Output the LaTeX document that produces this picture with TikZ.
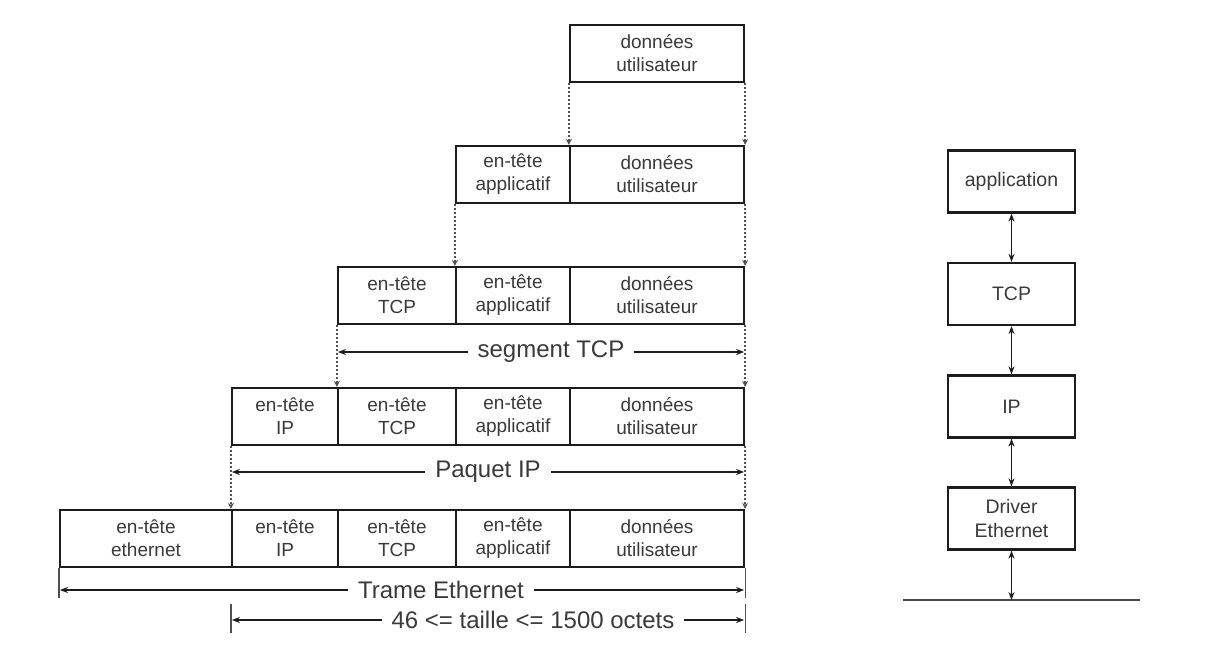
\documentclass[tikz,border=0pt]{standalone}
\usepackage{fontspec}
\setmainfont{Liberation Sans}
\usetikzlibrary{arrows.meta,calc}
\definecolor{ink}{HTML}{1C1C1C}
\definecolor{txt}{HTML}{3A3A3A}
\definecolor{dotc}{HTML}{505050}
\tikzset{
  cell/.style={draw=ink, line width=2.2pt, inner sep=0pt, minimum height=57pt,
    text=txt, align=center, font=\fontsize{19}{23}\selectfont},
  layer/.style={draw=ink, line width=2.2pt, inner sep=0pt, minimum width=127pt,
    minimum height=62pt, text=txt, align=center, font=\fontsize{19.5}{24}\selectfont},
  dotconn/.style={dotc, line width=1.6pt, dash pattern=on 2pt off 2pt,
    -{Stealth[length=6pt,width=6pt,fill=ink]}},
  dimline/.style={ink, line width=1.3pt, {Stealth[length=8pt,width=6pt]}-{Stealth[length=8pt,width=6pt]}},
  dimlabel/.style={fill=white, text=txt, inner xsep=10pt, inner ysep=1pt,
    font=\fontsize{24}{26}\selectfont},
  tickline/.style={dotc, line width=1.2pt},
  stackarrow/.style={ink, line width=1.4pt, {Stealth[length=8pt,width=6pt]}-{Stealth[length=8pt,width=6pt]}},
  bus/.style={ink!80, line width=1.4pt}
}
\begin{document}
\begin{tikzpicture}[x=1pt,y=-1pt]
\useasboundingbox[fill=white] (0,0) rectangle (1205,648);

% row 1: user data
\node[cell, minimum width=174pt] (d1) at (657,53.5) {données\\utilisateur};

% row 2: application header + data
\node[cell, minimum width=114pt] (a2) at (513,174.5) {en-tête\\applicatif};
\node[cell, minimum width=174pt] (d2) at (657,174.5) {données\\utilisateur};

% row 3: TCP segment
\node[cell, minimum width=118pt] (t3) at (397,295.5) {en-tête\\TCP};
\node[cell, minimum width=114pt] (a3) at (513,295.5) {en-tête\\applicatif};
\node[cell, minimum width=174pt] (d3) at (657,295.5) {données\\utilisateur};

% row 4: IP packet
\node[cell, minimum width=106pt] (i4) at (285,416.5) {en-tête\\IP};
\node[cell, minimum width=118pt] (t4) at (397,416.5) {en-tête\\TCP};
\node[cell, minimum width=114pt] (a4) at (513,416.5) {en-tête\\applicatif};
\node[cell, minimum width=174pt] (d4) at (657,416.5) {données\\utilisateur};

% row 5: Ethernet frame
\node[cell, minimum width=172pt] (e5) at (146,538.5) {en-tête\\ethernet};
\node[cell, minimum width=106pt] (i5) at (285,538.5) {en-tête\\IP};
\node[cell, minimum width=118pt] (t5) at (397,538.5) {en-tête\\TCP};
\node[cell, minimum width=114pt] (a5) at (513,538.5) {en-tête\\applicatif};
\node[cell, minimum width=174pt] (d5) at (657,538.5) {données\\utilisateur};

% dotted encapsulation guides
\draw[dotconn] (d1.south west) -- (d2.north west);
\draw[dotconn] (d1.south east) -- (d2.north east);
\draw[dotconn] (a2.south west) -- (a3.north west);
\draw[dotconn] (d2.south east) -- (d3.north east);
\draw[dotconn] (t3.south west) -- (t4.north west);
\draw[dotconn] (d3.south east) -- (d4.north east);
\draw[dotconn] (i4.south west) -- (i5.north west);
\draw[dotconn] (d4.south east) -- (d5.north east);

% dimension levels
\coordinate (segY) at (0,352);
\coordinate (pktY) at (0,472);
\coordinate (frmY) at (0,590);
\coordinate (sizY) at (0,620);
\coordinate (frmTop) at (0,598);
\coordinate (sizTop) at (0,604);
\coordinate (sizBot) at (0,633);

% segment TCP
\draw[dimline] ($(t3.south west |- segY)+(1pt,0)$) -- ($(d3.south east |- segY)+(-1pt,0)$);
\node[dimlabel] (segl) at (551,352) {segment TCP};

% Paquet IP
\draw[dimline] ($(i4.south west |- pktY)+(1pt,0)$) -- ($(d4.south east |- pktY)+(-1pt,0)$);
\node[dimlabel] (pktl) at (488,472) {Paquet IP};

% Trame Ethernet
\draw[tickline] (e5.south west) -- (e5.south west |- frmTop);
\draw[tickline] (d5.south east) -- (d5.south east |- frmTop);
\draw[dimline] ($(e5.south west |- frmY)+(1pt,0)$) -- ($(d5.south east |- frmY)+(-1pt,0)$);
\node[dimlabel] (frml) at (441,590) {Trame Ethernet};

% payload size
\draw[tickline] (i5.south west |- sizTop) -- (i5.south west |- sizBot);
\draw[tickline] (d5.south east |- sizTop) -- (d5.south east |- sizBot);
\draw[dimline] ($(i5.south west |- sizY)+(1pt,0)$) -- ($(d5.south east |- sizY)+(-1pt,0)$);
\node[dimlabel] (sizl) at (533,620) {46 <= taille <= 1500 octets};

% protocol stack
\node[layer] (app) at (1011.5,181.5) {application};
\node[layer] (tcp) at (1011.5,294) {TCP};
\node[layer] (ip)  at (1011.5,406.5) {IP};
\node[layer] (drv) at (1011.5,518.5) {Driver\\Ethernet};
\coordinate (busL) at (903,600);
\coordinate (busR) at (1140,600);
\draw[bus] (busL) -- (busR);

\draw[stackarrow] (app.south) -- (tcp.north);
\draw[stackarrow] (tcp.south) -- (ip.north);
\draw[stackarrow] (ip.south) -- (drv.north);
\draw[stackarrow] (drv.south) -- (drv.south |- busL);
\end{tikzpicture}
\end{document}
